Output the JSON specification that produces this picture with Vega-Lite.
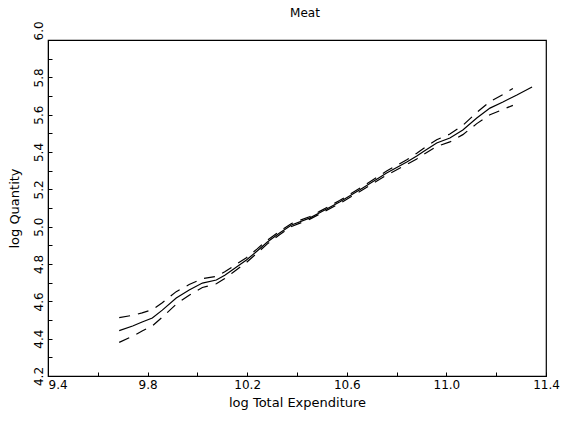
{
  "$schema": "https://vega.github.io/schema/vega-lite/v6.json",
  "width": 498,
  "height": 336,
  "autosize": {"type": "none"},
  "padding": {"left": 48, "top": 40, "right": 42, "bottom": 49},
  "background": "white",
  "title": {"text": "Meat", "font": "DejaVu Sans", "fontSize": 12, "fontWeight": "normal", "color": "black", "anchor": "middle", "offset": 1, "dx": 8},
  "config": {
    "view": {"stroke": "black", "strokeWidth": 1.2},
    "axis": {"grid": false, "domainColor": "black", "tickColor": "black", "labelColor": "black", "titleColor": "black", "labelFont": "DejaVu Sans", "titleFont": "DejaVu Sans", "labelFontSize": 12, "titleFontSize": 13, "titleFontWeight": "normal", "tickSize": -4, "tickWidth": 1, "labelOverlap": false, "labelFlush": false, "labelBound": false}
  },
  "data": {"values": [
    {"x": 9.686, "fit": 4.443, "lo": 4.380, "hi": 4.513},
    {"x": 9.74, "fit": 4.468, "lo": 4.413, "hi": 4.525},
    {"x": 9.778, "fit": 4.489, "lo": 4.441, "hi": 4.538},
    {"x": 9.819, "fit": 4.511, "lo": 4.468, "hi": 4.555},
    {"x": 9.859, "fit": 4.553, "lo": 4.515, "hi": 4.592},
    {"x": 9.915, "fit": 4.618, "lo": 4.585, "hi": 4.652},
    {"x": 9.967, "fit": 4.661, "lo": 4.633, "hi": 4.690},
    {"x": 10.02, "fit": 4.698, "lo": 4.674, "hi": 4.722},
    {"x": 10.076, "fit": 4.714, "lo": 4.694, "hi": 4.734},
    {"x": 10.11, "fit": 4.740, "lo": 4.722, "hi": 4.758},
    {"x": 10.14, "fit": 4.768, "lo": 4.752, "hi": 4.784},
    {"x": 10.197, "fit": 4.821, "lo": 4.808, "hi": 4.834},
    {"x": 10.24, "fit": 4.870, "lo": 4.859, "hi": 4.881},
    {"x": 10.281, "fit": 4.918, "lo": 4.908, "hi": 4.928},
    {"x": 10.33, "fit": 4.966, "lo": 4.957, "hi": 4.975},
    {"x": 10.378, "fit": 5.009, "lo": 5.001, "hi": 5.017},
    {"x": 10.45, "fit": 5.046, "lo": 5.039, "hi": 5.053},
    {"x": 10.491, "fit": 5.075, "lo": 5.068, "hi": 5.082},
    {"x": 10.571, "fit": 5.132, "lo": 5.124, "hi": 5.140},
    {"x": 10.664, "fit": 5.207, "lo": 5.198, "hi": 5.216},
    {"x": 10.76, "fit": 5.287, "lo": 5.276, "hi": 5.298},
    {"x": 10.841, "fit": 5.346, "lo": 5.333, "hi": 5.359},
    {"x": 10.881, "fit": 5.378, "lo": 5.363, "hi": 5.393},
    {"x": 10.905, "fit": 5.400, "lo": 5.384, "hi": 5.416},
    {"x": 10.961, "fit": 5.448, "lo": 5.430, "hi": 5.466},
    {"x": 11.014, "fit": 5.475, "lo": 5.454, "hi": 5.496},
    {"x": 11.066, "fit": 5.518, "lo": 5.493, "hi": 5.543},
    {"x": 11.122, "fit": 5.582, "lo": 5.552, "hi": 5.612},
    {"x": 11.175, "fit": 5.635, "lo": 5.600, "hi": 5.670},
    {"x": 11.227, "fit": 5.668, "lo": 5.628, "hi": 5.708},
    {"x": 11.267, "fit": 5.695, "lo": 5.650, "hi": 5.740},
    {"x": 11.283, "fit": 5.705, "lo": null, "hi": null},
    {"x": 11.344, "fit": 5.748, "lo": null, "hi": null}
  ]},
  "encoding": {
    "x": {"field": "x", "type": "quantitative",
      "scale": {"domain": [9.4, 11.4], "nice": false, "zero": false},
      "axis": {"title": "log Total Expenditure", "values": [9.4, 9.6, 9.8, 10.0, 10.2, 10.4, 10.6, 10.8, 11.0, 11.2, 11.4],
        "labelExpr": "indexof(['9.4','9.8','10.2','10.6','11.0','11.4'], format(datum.value, '.1f')) >= 0 ? format(datum.value, '.1f') : ''",
        "labelPadding": 7, "titlePadding": 6,
        "labelAlign": {"condition": {"test": "datum.value < 9.45", "value": "left"}, "value": "center"}}}
  },
  "layer": [
    {"mark": {"type": "line", "color": "black", "strokeWidth": 1.2},
     "encoding": {"y": {"field": "fit", "type": "quantitative",
       "scale": {"domain": [4.2, 6.0], "nice": false, "zero": false},
       "axis": {"title": "log Quantity", "values": [4.2, 4.3, 4.4, 4.5, 4.6, 4.7, 4.8, 4.9, 5.0, 5.1, 5.2, 5.3, 5.4, 5.5, 5.6, 5.7, 5.8, 5.9, 6.0],
         "labelExpr": "indexof(['4.2','4.4','4.6','4.8','5.0','5.2','5.4','5.6','5.8','6.0'], format(datum.value, '.1f')) >= 0 ? format(datum.value, '.1f') : ''",
         "labelAngle": -90, "labelBaseline": "bottom", "labelPadding": 7, "titlePadding": 11,
         "labelAlign": {"condition": {"test": "datum.value > 5.95", "value": "left"}, "value": "center"}}}}},
    {"mark": {"type": "line", "color": "black", "strokeWidth": 1.2, "strokeDash": [11, 8]},
     "encoding": {"y": {"field": "lo", "type": "quantitative",
       "scale": {"domain": [4.2, 6.0], "nice": false, "zero": false},
       "axis": {"title": "log Quantity", "values": [4.2, 4.3, 4.4, 4.5, 4.6, 4.7, 4.8, 4.9, 5.0, 5.1, 5.2, 5.3, 5.4, 5.5, 5.6, 5.7, 5.8, 5.9, 6.0],
         "labelExpr": "indexof(['4.2','4.4','4.6','4.8','5.0','5.2','5.4','5.6','5.8','6.0'], format(datum.value, '.1f')) >= 0 ? format(datum.value, '.1f') : ''",
         "labelAngle": -90, "labelBaseline": "bottom", "labelPadding": 7, "titlePadding": 11,
         "labelAlign": {"condition": {"test": "datum.value > 5.95", "value": "left"}, "value": "center"}}}}},
    {"mark": {"type": "line", "color": "black", "strokeWidth": 1.2, "strokeDash": [11, 8]},
     "encoding": {"y": {"field": "hi", "type": "quantitative",
       "scale": {"domain": [4.2, 6.0], "nice": false, "zero": false},
       "axis": {"title": "log Quantity", "values": [4.2, 4.3, 4.4, 4.5, 4.6, 4.7, 4.8, 4.9, 5.0, 5.1, 5.2, 5.3, 5.4, 5.5, 5.6, 5.7, 5.8, 5.9, 6.0],
         "labelExpr": "indexof(['4.2','4.4','4.6','4.8','5.0','5.2','5.4','5.6','5.8','6.0'], format(datum.value, '.1f')) >= 0 ? format(datum.value, '.1f') : ''",
         "labelAngle": -90, "labelBaseline": "bottom", "labelPadding": 7, "titlePadding": 11,
         "labelAlign": {"condition": {"test": "datum.value > 5.95", "value": "left"}, "value": "center"}}}}}
  ]
}
